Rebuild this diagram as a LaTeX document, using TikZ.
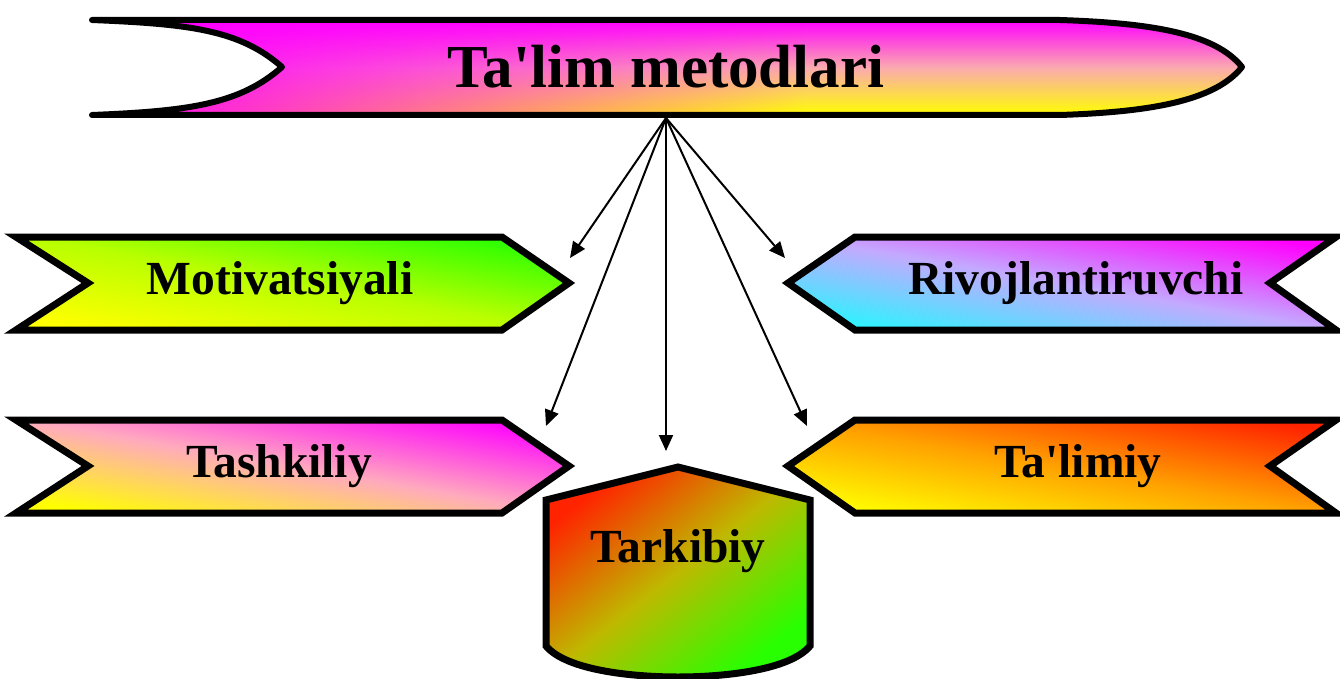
\documentclass[tikz,border=0pt]{standalone}
\usepackage{fontspec}
\setmainfont{Liberation Serif}
\usetikzlibrary{arrows.meta,fadings}
\definecolor{mgX}{RGB}{255,0,255}
\definecolor{ylX}{RGB}{255,255,0}
\definecolor{grX}{RGB}{40,255,0}
\definecolor{cyX}{RGB}{40,245,255}
\definecolor{rdX}{RGB}{255,35,0}
\definecolor{pkmid}{RGB}{250,170,175}
\definecolor{motmid}{RGB}{185,255,0}
\definecolor{rivmid}{RGB}{195,170,255}
\definecolor{tasmid}{RGB}{255,170,190}
\definecolor{talmid}{RGB}{255,160,0}
\definecolor{tarmid}{RGB}{190,185,0}
\pgfdeclarehorizontalshading{bannerfadeshade}{100bp}{color(0bp)=(pgftransparent!0); color(25bp)=(pgftransparent!0); color(56bp)=(pgftransparent!100); color(100bp)=(pgftransparent!100)}
\pgfdeclarefading{bannerfade}{\pgfuseshading{bannerfadeshade}}
\begin{document}
\begin{tikzpicture}[x=1pt,y=-1pt,
  shapeline/.style={draw=black, line width=7pt, line join=miter},
  arr/.style={draw=black, line width=2pt, -{Triangle[length=16pt,width=14pt]}},
  lbl/.style={font=\fontsize{47.5}{50}\selectfont\bfseries, inner sep=0pt, anchor=base},
  title/.style={font=\fontsize{61}{64}\selectfont\bfseries, inner sep=0pt, anchor=base}]
\useasboundingbox (0,0) rectangle (1340,679);

% top banner
\path[draw=black, line width=6pt, line join=round,
  preaction={top color=mgX, bottom color=ylX, middle color=pkmid},
  preaction={fill=mgX, path fading=bannerfade}]
  (92,20) -- (1060,20) .. controls (1150,23) and (1215,33) .. (1242,67)
  .. controls (1215,101) and (1150,112) .. (1060,115) -- (92,115)
  .. controls (190,111) and (240,104) .. (282,67)
  .. controls (240,30) and (190,24) .. (92,20) -- cycle;
\node[title] (ttl) at (666,88) {Ta\textquotesingle lim metodlari};

% Motivatsiyali
\path[shapeline, top color=grX, bottom color=ylX, middle color=motmid, shading angle=-9.8]
  (16,237) -- (502,237) -- (569,283) -- (502,330) -- (16,330) -- (88,283) -- cycle;
\node[lbl] (mot) at (280,294) {Motivatsiyali};

% Rivojlantiruvchi
\path[shapeline, top color=mgX, bottom color=cyX, middle color=rivmid, shading angle=-9.8]
  (1336,237) -- (855,237) -- (788,283) -- (855,330) -- (1336,330) -- (1270,283) -- cycle;
\node[lbl] (riv) at (1076,294) {Rivojlantiruvchi};

% Tashkiliy
\path[shapeline, top color=mgX, bottom color=ylX, middle color=tasmid, shading angle=-9.8]
  (16,420) -- (502,420) -- (569,466) -- (502,513) -- (16,513) -- (88,466) -- cycle;
\node[lbl] (tas) at (279,477) {Tashkiliy};

% Ta'limiy
\path[shapeline, top color=rdX, bottom color=ylX, middle color=talmid, shading angle=-9.8]
  (1336,420) -- (855,420) -- (788,466) -- (855,513) -- (1336,513) -- (1270,466) -- cycle;
\node[lbl] (tal) at (1078,477) {Ta\textquotesingle limiy};

% Tarkibiy
\path[shapeline, top color=rdX, bottom color=grX, middle color=tarmid, shading angle=38.5]
  (678,467) -- (810,500) -- (810,646) .. controls (790,670) and (725,677) .. (678,677)
  .. controls (631,677) and (566,670) .. (546,646) -- (546,500) -- cycle;
\node[lbl] (tar) at (678,562) {Tarkibiy};

% connectors
\coordinate (src) at (666,118);
\coordinate (eMot) at (570,258);
\coordinate (eRiv) at (785,258);
\coordinate (eTas) at (546,426);
\coordinate (eTar) at (666,451);
\coordinate (eTal) at (807,426);
\draw[arr] (src) -- (eMot);
\draw[arr] (src) -- (eRiv);
\draw[arr] (src) -- (eTas);
\draw[arr] (src) -- (eTar);
\draw[arr] (src) -- (eTal);
\end{tikzpicture}
\end{document}
